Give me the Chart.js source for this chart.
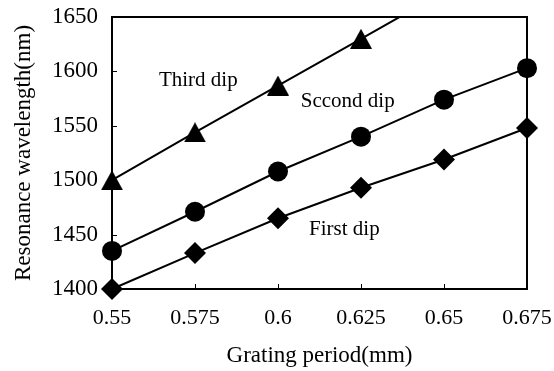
<!DOCTYPE html>
<html lang="en">
  <head>
    <meta charset="UTF-8" />
    <title>Resonance wavelength vs grating period</title>
    <script src="https://cdn.jsdelivr.net/npm/chart.js@4.4.1/dist/chart.umd.min.js"></script>
    <style>
      html, body { margin: 0; padding: 0; background: #fff; }
      #wrap { width: 554px; height: 371px; }
    </style>
  </head>
  <body>
    <div id="wrap"><canvas id="chart" width="554" height="371"></canvas></div>
    <script>
      // data
      const periods = [0.55, 0.575, 0.6, 0.625, 0.65, 0.675];
      const firstDip = [1400, 1433, 1465, 1493, 1519, 1548];
      const secondDip = [1435, 1471, 1508, 1540, 1574, 1603];
      const thirdDip = [1500, 1544, 1587, 1630, 1673, null];
      const xTicks = [0.55, 0.575, 0.6, 0.625, 0.65, 0.675];
      const yTicks = [1400, 1450, 1500, 1550, 1600, 1650];

      const serif = "'Liberation Serif', 'Times New Roman', serif";

      function toPoints(ys) {
        return periods.map((x, i) => ({x: x, y: ys[i]}));
      }

      // triangle centred on its bounding box (like the original markers)
      function triangleMark(w, h) {
        const c = document.createElement('canvas');
        c.width = w;
        c.height = h;
        const g = c.getContext('2d');
        g.fillStyle = '#000';
        g.beginPath();
        g.moveTo(w / 2, 0);
        g.lineTo(w, h);
        g.lineTo(0, h);
        g.closePath();
        g.fill();
        return c;
      }

      // box round the plot, short inward ticks, curve labels
      const framePlugin = {
        id: 'frame',
        beforeDatasetsDraw(chart) {
          const {ctx, chartArea: a, scales} = chart;
          ctx.save();
          ctx.strokeStyle = '#000';
          ctx.lineWidth = 1;
          xTicks.slice(1, -1).forEach((v) => {
            const px = Math.round(scales.x.getPixelForValue(v)) + 0.5;
            ctx.beginPath();
            ctx.moveTo(px, a.bottom);
            ctx.lineTo(px, a.bottom - 5);
            ctx.stroke();
          });
          yTicks.slice(1, -1).forEach((v) => {
            const py = Math.round(scales.y.getPixelForValue(v)) + 0.5;
            ctx.beginPath();
            ctx.moveTo(a.left, py);
            ctx.lineTo(a.left + 5, py);
            ctx.stroke();
          });
          ctx.lineWidth = 2;
          ctx.strokeRect(a.left, a.top, a.right - a.left, a.bottom - a.top);

          ctx.fillStyle = '#000';
          ctx.font = '21px ' + serif;
          ctx.textAlign = 'center';
          ctx.textBaseline = 'middle';
          const notes = [
            ['Third dip', 0.576, 1592],
            ['Sccond dip', 0.621, 1572],
            ['First dip', 0.620, 1455]
          ];
          notes.forEach(([t, x, y]) => {
            ctx.fillText(t, scales.x.getPixelForValue(x), scales.y.getPixelForValue(y));
          });
          ctx.restore();
        }
      };

      const lineStyle = {
        borderColor: '#000',
        backgroundColor: '#000',
        borderWidth: 2,
        pointBorderWidth: 0,
        pointHoverRadius: 10,
        tension: 0,
        showLine: true
      };

      new Chart(document.getElementById('chart').getContext('2d'), {
        type: 'scatter',
        data: {
          datasets: [
            Object.assign({}, lineStyle, {
              label: 'Third dip',
              data: toPoints(thirdDip),
              pointStyle: triangleMark(22, 20),
              pointRadius: 10,
              clip: {left: 20, right: 20, bottom: 20, top: 0}
            }),
            Object.assign({}, lineStyle, {
              label: 'Second dip',
              data: toPoints(secondDip),
              pointStyle: 'circle',
              pointRadius: 10,
              clip: false
            }),
            Object.assign({}, lineStyle, {
              label: 'First dip',
              data: toPoints(firstDip),
              pointStyle: 'rectRot',
              pointRadius: 11,
              clip: false
            })
          ]
        },
        options: {
          responsive: false,
          animation: false,
          devicePixelRatio: 1,
          layout: {padding: {left: 0, right: 27, top: 17, bottom: 0}},
          plugins: {
            legend: {display: false},
            tooltip: {enabled: false}
          },
          scales: {
            x: {
              type: 'linear',
              min: 0.55,
              max: 0.675,
              afterBuildTicks: (s) => { s.ticks = xTicks.map((v) => ({value: v})); },
              afterFit: (s) => { s.height = 82; s.paddingLeft = 0; s.paddingRight = 0; },
              grid: {display: false, drawTicks: false},
              border: {display: false},
              ticks: {
                color: '#000',
                autoSkip: false,
                maxRotation: 0,
                padding: 16,
                font: {family: serif, size: 22},
                callback: (v) => String(v)
              },
              title: {
                display: true,
                text: 'Grating period(mm)',
                color: '#000',
                font: {family: serif, size: 23},
                padding: {top: 0, bottom: 1}
              }
            },
            y: {
              min: 1400,
              max: 1650,
              afterBuildTicks: (s) => { s.ticks = yTicks.map((v) => ({value: v})); },
              afterFit: (s) => { s.width = 112; s.paddingTop = 0; s.paddingBottom = 0; },
              grid: {display: false, drawTicks: false},
              border: {display: false},
              ticks: {
                color: '#000',
                padding: 14,
                font: {family: serif, size: 23},
                callback: (v) => String(v)
              },
              title: {
                display: true,
                text: 'Resonance wavelength(nm)',
                color: '#000',
                font: {family: serif, size: 23},
                padding: {top: 10, bottom: 0}
              }
            }
          }
        },
        plugins: [framePlugin]
      });
    </script>
  </body>
</html>
